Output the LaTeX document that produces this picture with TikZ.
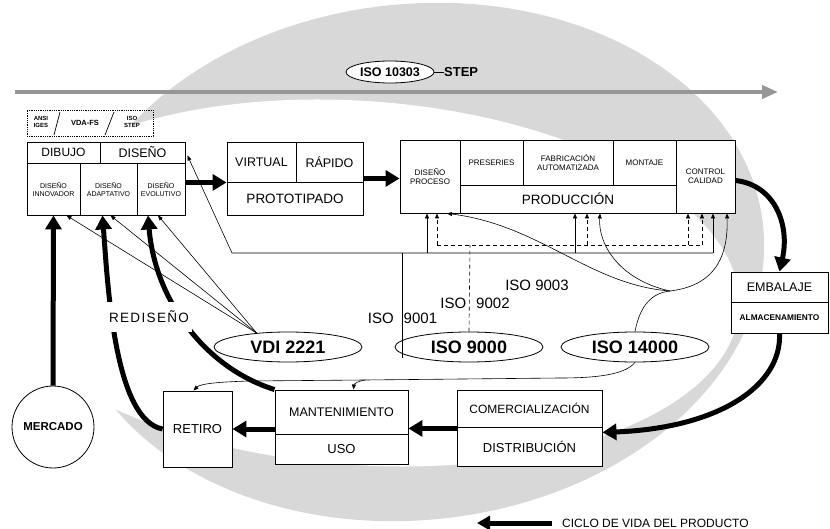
\documentclass[tikz,border=0pt]{standalone}
\usepackage{fontspec}
\setmainfont{Liberation Sans}
\usetikzlibrary{shapes.geometric,arrows.meta,calc}
\definecolor{bggrey}{RGB}{216,216,216}
\definecolor{arrowgrey}{RGB}{150,150,150}
\tikzset{
  cell/.style={draw, fill=white, line width=0.9pt, inner sep=0pt, align=center},
  midtxt/.style={font=\fontsize{8}{9}\selectfont},
  tinytxt/.style={font=\fontsize{7}{8}\selectfont},
  stdell/.style={draw, ellipse, line width=0.8pt, minimum width=148pt, minimum height=30pt, inner sep=0pt, font=\bfseries\fontsize{18}{18}\selectfont},
  flow/.style={line width=5pt, -{Triangle[length=14pt,width=16pt]}},
  link/.style={line width=0.6pt, -{Triangle[length=5pt,width=4pt]}},
  dlink/.style={link, dash pattern=on 4pt off 3pt},
  isolbl/.style={font=\fontsize{15}{15}\selectfont, inner sep=0pt},
}
\begin{document}
\begin{tikzpicture}[x=1pt,y=-1pt]
\useasboundingbox (0,0) rectangle (830,529);
% background
\fill[bggrey, rotate around={6:(415,262)}] (415,262) ellipse [x radius=350pt, y radius=258pt];
\fill[white, rotate around={-4:(360,283)}] (360,283) ellipse [x radius=380pt, y radius=182pt];
% STEP arrow
\draw[line width=4pt, arrowgrey, -{Triangle[length=16pt,width=13pt]}] (15,92) -- (778,92);
\node[draw, ellipse, fill=white, line width=0.8pt, minimum width=88pt, minimum height=22pt, inner sep=0pt, font=\bfseries\fontsize{12.5}{13}\selectfont] (iso10303) at (390,72) {ISO 10303};
\node[font=\bfseries\fontsize{13}{13}\selectfont, anchor=west, inner sep=0pt] (step) at (444,72) {STEP};
\draw[line width=0.8pt] (iso10303.east) -- (step.west);

% standards strip
\node[draw, densely dotted, line width=0.8pt, minimum width=126pt, minimum height=26pt, inner sep=0pt] (fmt) at (90,123) {};
\node[font=\bfseries\fontsize{6}{7}\selectfont, align=center, inner sep=0pt] (ansi) at (41,122) {ANSI\\IGES};
\node[font=\bfseries\fontsize{7.5}{8}\selectfont, inner sep=0pt] (vda) at (85,123) {VDA-FS};
\node[font=\bfseries\fontsize{6}{7}\selectfont, align=center, inner sep=0pt] (isostep) at (132,122) {ISO\\STEP};
\draw[line width=0.7pt] (54,135) -- (60,112);
\draw[line width=0.7pt] (105,135) -- (114,112);

% design box
\node[cell, minimum width=73pt, minimum height=21pt, font=\fontsize{12}{13}\selectfont] (dibujo) at (63.5,152.5) {DIBUJO};
\node[cell, minimum width=85pt, minimum height=21pt, font=\fontsize{12.5}{13}\selectfont] (diseno) at (142.5,152.5) {DISEÑO};
\node[cell, minimum width=53pt, minimum height=52pt, tinytxt] (innov) at (53.5,189) {DISEÑO\\INNOVADOR};
\node[cell, minimum width=57pt, minimum height=52pt, tinytxt] (adapt) at (108.5,189) {DISEÑO\\ADAPTATIVO};
\node[cell, minimum width=48pt, minimum height=52pt, tinytxt] (evol) at (161,189) {DISEÑO\\EVOLUTIVO};

% prototyping
\node[cell, minimum width=69pt, minimum height=40pt, font=\fontsize{12.5}{13}\selectfont] (virtual) at (261.5,162) {VIRTUAL};
\node[cell, minimum width=67pt, minimum height=40pt, font=\fontsize{12.5}{13}\selectfont] (rapido) at (329.5,162) {RÁPIDO};
\node[cell, minimum width=136pt, minimum height=33pt, font=\fontsize{13.5}{14}\selectfont] (proto) at (295,198.5) {PROTOTIPADO};

% production
\node[cell, minimum width=60pt, minimum height=73pt, midtxt] (dproc) at (430,176.5) {DISEÑO\\PROCESO};
\node[cell, minimum width=63pt, minimum height=45pt, midtxt] (preser) at (491.5,162.5) {PRESERIES};
\node[cell, minimum width=90pt, minimum height=45pt, midtxt] (fabric) at (568,162.5) {FABRICACIÓN\\AUTOMATIZADA};
\node[cell, minimum width=63pt, minimum height=45pt, midtxt] (montaje) at (644.5,162.5) {MONTAJE};
\node[cell, minimum width=216pt, minimum height=28pt, font=\fontsize{13.5}{14}\selectfont] (produc) at (568,199) {PRODUCCIÓN};
\node[cell, minimum width=59pt, minimum height=73pt, midtxt] (control) at (705.5,176.5) {CONTROL\\CALIDAD};

% packaging
\node[cell, minimum width=97pt, minimum height=30pt, font=\fontsize{12.5}{13}\selectfont] (embal) at (779.5,287) {EMBALAJE};
\node[cell, minimum width=97pt, minimum height=31pt, font=\bfseries\fontsize{8.3}{9}\selectfont] (almac) at (779.5,317.5) {ALMACENAMIENTO};

% distribution / use / retire
\node[cell, minimum width=145pt, minimum height=37pt, font=\fontsize{12}{13}\selectfont] (comerc) at (529.5,408.5) {COMERCIALIZACIÓN};
\node[cell, minimum width=145pt, minimum height=39pt, font=\fontsize{13}{14}\selectfont] (distrib) at (529.5,446.5) {DISTRIBUCIÓN};
\node[cell, minimum width=133pt, minimum height=44pt, font=\fontsize{12.5}{13}\selectfont] (mant) at (341.5,412) {MANTENIMIENTO};
\node[cell, minimum width=133pt, minimum height=30pt, font=\fontsize{13}{14}\selectfont] (uso) at (341.5,449) {USO};
\node[cell, minimum width=69pt, minimum height=76pt, font=\fontsize{13}{14}\selectfont] (retiro) at (197.5,429) {RETIRO};
\node[draw, circle, fill=white, line width=0.8pt, minimum size=82pt, inner sep=0pt, font=\bfseries\fontsize{11.5}{12}\selectfont] (mercado) at (53,427) {MERCADO};

% ellipses of standards
\node[stdell] (vdi) at (288,347) {VDI 2221};
\node[stdell] (iso9000) at (469,347) {ISO 9000};
\node[stdell] (iso14000) at (635,347) {ISO 14000};

% main flow
\draw[flow] (evol.east |- virtual.south west) -- (virtual.south west);
\draw[flow] ($(rapido.south east)+(0,-4)$) -- ($(dproc.west |- rapido.south east)+(0,-4)$);
\draw[flow] ($(control.east)+(0,4)$) .. controls (775,185) and (790,225) .. (embal.north);
\draw[flow] (almac.south) .. controls (782,385) and (720,428) .. ($(comerc.south east)+(0,5)$);
\draw[flow] ($(comerc.south west)+(0,1)$) -- ($(mant.east |- comerc.south west)+(0,1)$);
\draw[flow] (mant.west |- retiro.east) -- (retiro.east);
\draw[flow] (mercado.north) -- (innov.south);
\draw[flow] (retiro.west) .. controls (115,420) and (108,290) .. ($(adapt.south)+(-6,0)$);
\draw[flow] (mant.north west) .. controls (205,368) and (155,300) .. ($(evol.south)+(-13,0)$);
\node[fill=white, inner xsep=3pt, inner ysep=9pt, font=\fontsize{13.5}{14}\selectfont\addfontfeature{LetterSpace=10}] (redis) at (149,317) {REDISEÑO};

% VDI 2221 links
\draw[link] (vdi.156) -- ($(innov.south)+(13,0)$);
\draw[link] (vdi.156) -- ($(adapt.south)+(2,0)$);
\draw[link] (vdi.156) -- ($(evol.south)+(-3,0)$);

% ISO 9001 network (solid)
\coordinate (hl) at (232,253);
\coordinate (hr) at (713,253);
\coordinate (j9001) at (402,253);
\draw[link] (hr) -- (hl) -- ($(diseno.east)+(2,3)$);
\draw[line width=0.6pt] (j9001) -- (j9001 |- iso9000.south west);
\draw[link] ($(dproc.south)+(-3,40)$) -- ($(dproc.south)+(-3,0)$);
\draw[link] ($(produc.south)+(7,40)$) -- ($(produc.south)+(7,0)$);
\draw[link] (hr) -- (hr |- control.south);

% ISO 9002 network (dashed)
\coordinate (d9002) at (470,245);
\draw[line width=0.6pt, dash pattern=on 4pt off 3pt] (iso9000.north) -- (d9002);
\draw[line width=0.6pt, dash pattern=on 4pt off 3pt] ($(dproc.south)+(7,32)$) -- ($(control.south)+(-3.5,32)$);
\draw[dlink] ($(dproc.south)+(7,32)$) -- ($(dproc.south)+(7,0)$);
\draw[dlink] ($(produc.south)+(19,32)$) -- ($(produc.south)+(19,0)$);
\draw[dlink] ($(control.south)+(-17.5,32)$) -- ($(control.south)+(-17.5,0)$);
\draw[dlink] ($(control.south)+(-3.5,32)$) -- ($(control.south)+(-3.5,0)$);

% ISO 14000 network
\coordinate (hub) at (670,291);
\draw[line width=0.6pt] (iso14000.north) .. controls (640,305) and (652,293) .. (hub);
\draw[link] (hub) .. controls (590,285) and (540,225) .. ($(dproc.south)+(17,0)$);
\draw[link] (hub) .. controls (620,280) and (598,245) .. ($(produc.south)+(32,0)$);
\draw[link] (hub) .. controls (720,285) and (728,250) .. ($(control.south)+(21.5,0)$);
\coordinate (b14) at (560,378);
\coordinate (bm) at (365,380);
\draw[line width=0.6pt] (iso14000.south) .. controls (625,375) and (595,378) .. (b14) -- (bm);
\draw[link] (bm) -- (250,381) .. controls (215,382) and (200,384) .. ($(retiro.north)+(-4,0)$);
\draw[link] (bm) .. controls (358,381) and (354,384) .. ($(mant.north)+(12,0)$);

% labels
\node[isolbl] (l9001) at (402.5,318) {ISO\hspace{10pt}9001};
\node[isolbl] (l9002) at (475,303) {ISO\hspace{10pt}9002};
\node[isolbl] (l9003) at (537,285) {ISO 9003};

% legend
\node[anchor=west, inner sep=0pt, font=\fontsize{12}{13}\selectfont] (legend) at (562,523) {CICLO DE VIDA DEL PRODUCTO};
\draw[line width=5pt, -{Triangle[length=13pt,width=14pt]}] ($(legend.west)+(-10,0)$) -- ($(legend.west)+(-85,0)$);
\end{tikzpicture}
\end{document}
